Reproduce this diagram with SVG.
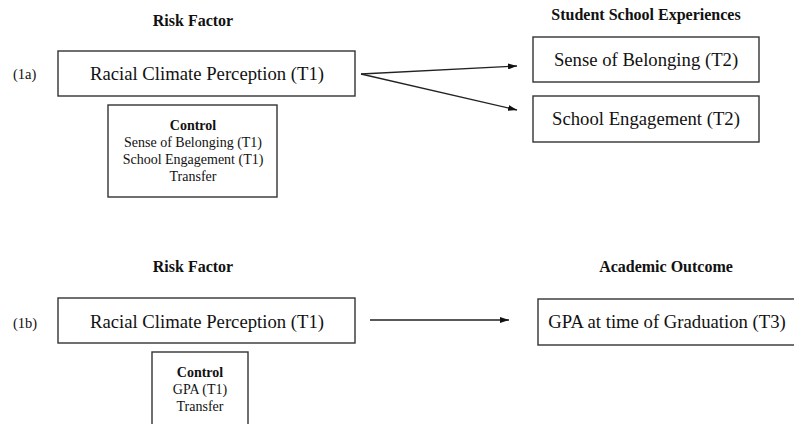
<svg xmlns="http://www.w3.org/2000/svg" width="794" height="424" viewBox="0 0 794 424">
<style>
text{font-family:"Liberation Serif","Times New Roman",serif;fill:#111;}
.h{font-size:16px;font-weight:bold;text-anchor:middle;}
.m{font-size:18.7px;text-anchor:middle;}
.l{font-size:14.5px;}
.c{font-size:14px;text-anchor:middle;}
.cb{font-size:14px;font-weight:bold;text-anchor:middle;}
.box{fill:#fff;stroke:#333;stroke-width:1.4;}
.conn{stroke:#222;stroke-width:1.3;fill:none;marker-end:url(#ah);}
</style>
<defs>
<marker id="ah" markerWidth="9" markerHeight="6" refX="9" refY="3" orient="auto" markerUnits="userSpaceOnUse">
<path d="M0,0 L9,3 L0,6 Z" fill="#111"/>
</marker>
</defs>
<rect width="794" height="424" fill="#fff"/>
<text class="h" x="193" y="26">Risk Factor</text>
<text class="h" x="646" y="20">Student School Experiences</text>
<text class="h" x="193" y="272">Risk Factor</text>
<text class="h" x="666" y="272">Academic Outcome</text>
<text class="l" x="13" y="79">(1a)</text>
<text class="l" x="13" y="328">(1b)</text>
<g id="n_rcp1">
<rect class="box" x="58" y="51" width="297" height="45"/>
<text class="m" x="207" y="80">Racial Climate Perception (T1)</text>
</g>
<g id="n_ctrl1">
<rect class="box" x="108" y="105" width="169" height="92"/>
<text class="cb" x="193" y="130">Control</text>
<text class="c" x="193" y="147">Sense of Belonging (T1)</text>
<text class="c" x="193" y="164">School Engagement (T1)</text>
<text class="c" x="193" y="181">Transfer</text>
</g>
<g id="n_sob2">
<rect class="box" x="533" y="37" width="226" height="45"/>
<text class="m" x="646" y="66">Sense of Belonging (T2)</text>
</g>
<g id="n_se2">
<rect class="box" x="533" y="96" width="226" height="46"/>
<text class="m" x="646" y="125">School Engagement (T2)</text>
</g>
<g id="n_rcp2">
<rect class="box" x="58" y="298" width="297" height="45"/>
<text class="m" x="207" y="328">Racial Climate Perception (T1)</text>
</g>
<g id="n_ctrl2">
<rect class="box" x="152" y="352" width="96" height="80"/>
<text class="cb" x="200" y="377">Control</text>
<text class="c" x="200" y="394">GPA (T1)</text>
<text class="c" x="200" y="411">Transfer</text>
</g>
<g id="n_gpa3">
<rect class="box" x="538" y="299" width="262" height="46"/>
<text class="m" x="667" y="328">GPA at time of Graduation (T3)</text>
</g>
<g id="connectors">
<line class="conn" x1="361" y1="74" x2="517" y2="66"/>
<line class="conn" x1="361" y1="74" x2="517" y2="110"/>
<line class="conn" x1="370" y1="320" x2="509" y2="320"/>
</g>
</svg>
